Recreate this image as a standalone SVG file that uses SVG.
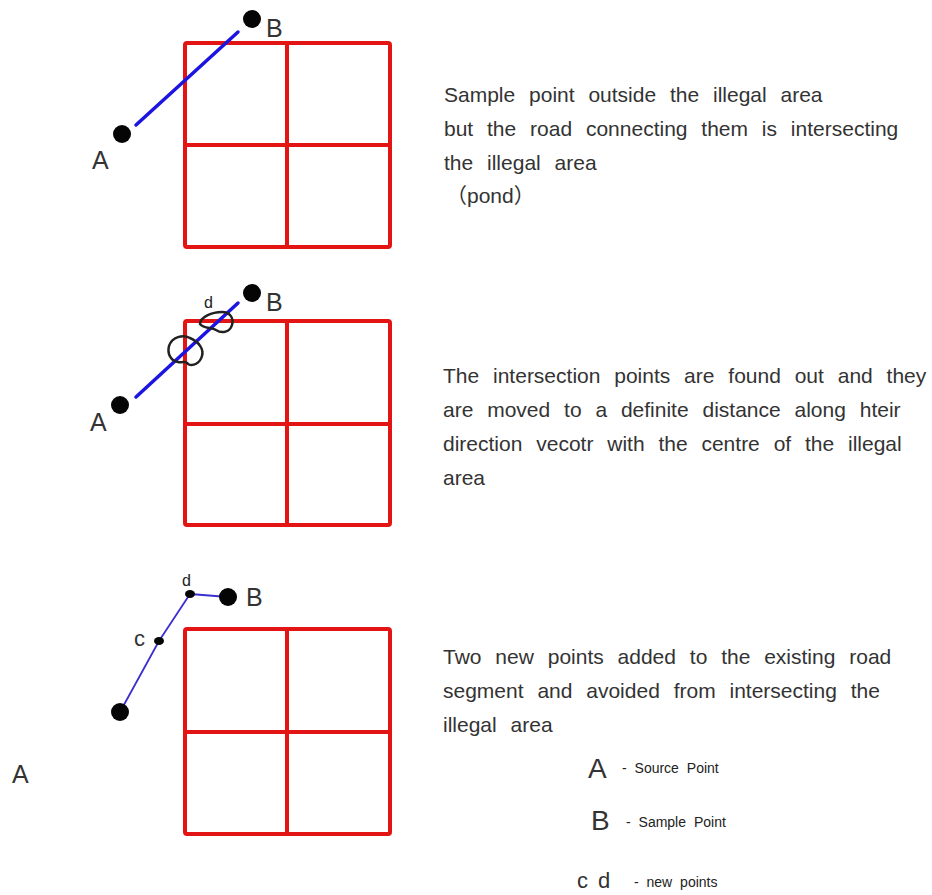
<svg xmlns="http://www.w3.org/2000/svg" width="932" height="895" viewBox="0 0 932 895">
<style>
.grid{fill:none;stroke:#e31414;stroke-width:4;stroke-linejoin:round}
.road{stroke:#1c14e0;stroke-width:3.5;fill:none;stroke-linecap:round}
.road2{stroke:#3a2fd0;stroke-width:1.8;fill:none;stroke-linejoin:round}
.pt{fill:#050505}
.lbl{font-family:"Liberation Sans",Arial,sans-serif;fill:#333;font-size:25px}
.small{font-family:"Liberation Sans",Arial,sans-serif;fill:#222;font-size:16px}
.desc{font-family:"Liberation Sans","Noto Sans CJK SC",Arial,sans-serif;fill:#333;font-size:21px;word-spacing:8px}
.leg{font-family:"Liberation Sans",Arial,sans-serif;fill:#222;font-size:14px;word-spacing:4px}
.scr{fill:none;stroke:#222;stroke-width:2.5}
</style>
<rect width="932" height="895" fill="#fff"/>

<g id="panel1">
  <g id="area1">
    <rect class="grid" x="185" y="43" width="205" height="204" rx="2"/>
    <line class="grid" x1="287" y1="43" x2="287" y2="247"/>
    <line class="grid" x1="185" y1="145" x2="390" y2="145"/>
  </g>
  <g id="connectors1"><line class="road" x1="136" y1="125" x2="238" y2="32"/></g>
  <g id="A1"><circle class="pt" cx="122" cy="134" r="9"/><text class="lbl" x="92" y="169">A</text></g>
  <g id="B1"><circle class="pt" cx="252" cy="19" r="9"/><text class="lbl" x="266" y="37">B</text></g>
  <g id="text1">
    <text class="desc" x="444" y="102">Sample point outside the illegal area</text>
    <text class="desc" x="444" y="136">but the road connecting them is intersecting</text>
    <text class="desc" x="444" y="170">the illegal area</text>
    <text class="desc" x="446" y="203">（pond）</text>
  </g>
</g>

<g id="panel2">
  <g id="area2">
    <rect class="grid" x="185" y="321" width="205" height="204" rx="2"/>
    <line class="grid" x1="287" y1="321" x2="287" y2="525"/>
    <line class="grid" x1="185" y1="424" x2="390" y2="424"/>
  </g>
  <g id="connectors2"><line class="road" x1="136" y1="397" x2="238" y2="303"/></g>
  <g id="marks2">
    <path class="scr" d="M190,338 C183,334 172,337 169,346 C167,354 171,361 178,362 C183,363 186,360 188,364 C193,367 200,363 202,356 C204,349 199,342 190,338 Z"/>
    <path class="scr" d="M200,324 C200,317 212,312 222,312 C230,312 234,318 232,325 C230,332 222,334 216,330 C212,327 204,329 200,324 Z"/>
    <text class="small" x="204" y="308">d</text>
  </g>
  <g id="A2"><circle class="pt" cx="120" cy="405" r="9"/><text class="lbl" x="90" y="431">A</text></g>
  <g id="B2"><circle class="pt" cx="252" cy="293" r="9"/><text class="lbl" x="266" y="311">B</text></g>
  <g id="text2">
    <text class="desc" x="443" y="383">The intersection points are found out and they</text>
    <text class="desc" x="443" y="417">are moved to a definite distance along hteir</text>
    <text class="desc" x="443" y="451">direction vecotr with the centre of the illegal</text>
    <text class="desc" x="443" y="485">area</text>
  </g>
</g>

<g id="panel3">
  <g id="area3">
    <rect class="grid" x="185" y="629" width="205" height="205" rx="2"/>
    <line class="grid" x1="287" y1="629" x2="287" y2="834"/>
    <line class="grid" x1="185" y1="732" x2="390" y2="732"/>
  </g>
  <g id="connectors3"><polyline class="road2" points="120,712 159,641 190,594 228,597"/></g>
  <g id="A3"><circle class="pt" cx="120" cy="712" r="9"/><text class="lbl" x="12" y="783">A</text></g>
  <g id="c3"><ellipse class="pt" cx="159" cy="641" rx="5" ry="4"/><text class="lbl" x="134" y="646" style="font-size:22px">c</text></g>
  <g id="d3"><ellipse class="pt" cx="190" cy="594" rx="5" ry="4"/><text class="small" x="182" y="586">d</text></g>
  <g id="B3"><circle class="pt" cx="228" cy="597" r="9"/><text class="lbl" x="246" y="606">B</text></g>
  <g id="text3">
    <text class="desc" x="443" y="664">Two new points added to the existing road</text>
    <text class="desc" x="443" y="698">segment and avoided from intersecting the</text>
    <text class="desc" x="443" y="732">illegal area</text>
  </g>
  <g id="legend">
    <text class="lbl" x="588" y="778" style="font-size:28px">A</text>
    <text class="leg" x="622" y="773">-  Source Point</text>
    <text class="lbl" x="591" y="830" style="font-size:28px">B</text>
    <text class="leg" x="626" y="827">-  Sample Point</text>
    <text class="lbl" x="577" y="888" style="font-size:22px;word-spacing:4px">c d</text>
    <text class="leg" x="634" y="887">-  new points</text>
  </g>
</g>
</svg>
